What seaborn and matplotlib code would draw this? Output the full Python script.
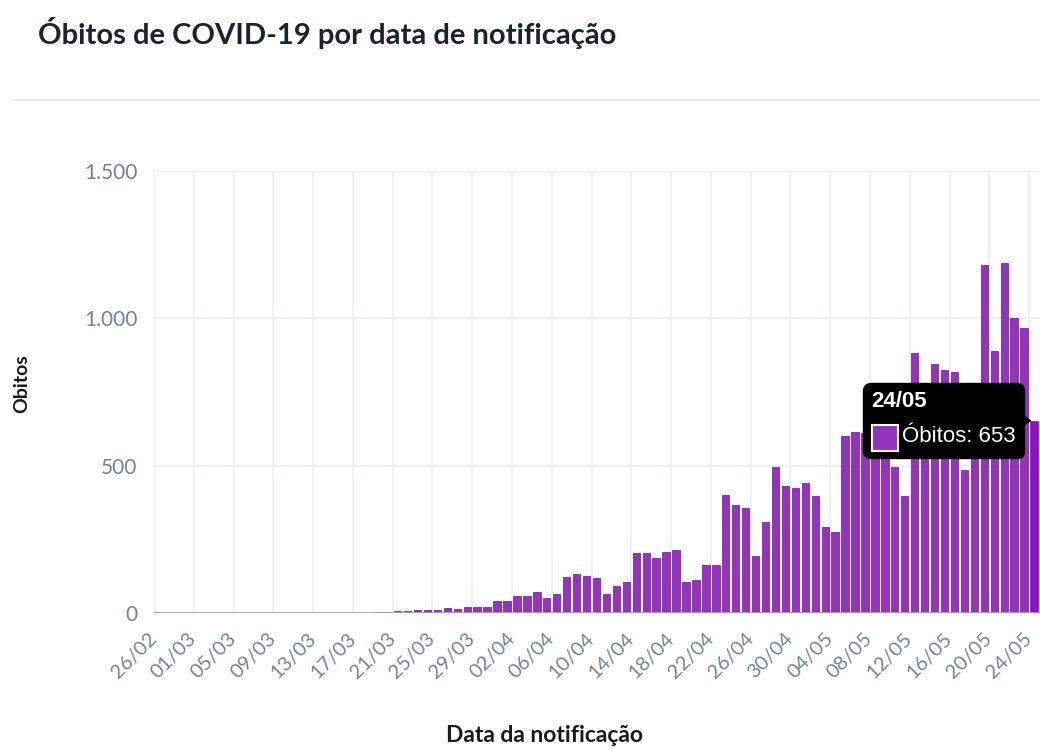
import pandas as pd
import seaborn as sns
import matplotlib.pyplot as plt
from matplotlib.lines import Line2D
from matplotlib.patches import Rectangle
from matplotlib.offsetbox import TextArea, DrawingArea, HPacker, VPacker, AnnotationBbox

# dados: obitos diarios por data de notificacao (26/02 a 24/05)
datas = pd.date_range('2020-02-26', '2020-05-24', freq='D').strftime('%d/%m').tolist()
obitos = [
  0, 0, 0, 0, 0, 0, 0, 0, 0, 0,
  0, 0, 0, 0, 0, 0, 0, 0, 0, 0,
  1, 2, 3, 5, 8, 8, 10, 11, 11, 19,
  14, 20, 20, 21, 40, 40, 57, 57, 71, 52,
  67, 122, 133, 128, 120, 64, 93, 105, 204, 203,
  187, 207, 215, 107, 114, 164, 164, 402, 366, 358,
  193, 309, 496, 433, 426, 442, 396, 294, 277, 600,
  615, 610, 751, 730, 496, 396, 883, 749, 845, 825,
  817, 486, 674, 1180, 889, 1188, 1002, 966, 653,
]
yticks = [0, 500, 1000, 1500]
titulo = 'Óbitos de COVID-19 por data de notificação'

bar_color = '#9433bb'
hover_color = '#8e10cc'
grid_color = '#e9eef5'
tick_color = '#70839d'

sns.set_theme(style='white')
plt.rcParams['font.family'] = ['Lato', 'DejaVu Sans']

fig = plt.figure(figsize=(10.4, 7.49), dpi=100)
ax = fig.add_axes([154/1040, 1-613.3/749, 886/1040, (613.3-170.7)/749])

palette = {d: bar_color for d in datas}
palette[datas[-1]] = hover_color
sns.barplot(x=datas, y=obitos, hue=datas, palette=palette, legend=False,
            width=0.74, saturation=1, edgecolor='#8524ab', linewidth=0.6, ax=ax, zorder=3)

ax.set_ylim(0, 1500)
ax.set_yticks(yticks, [f'{v:,}'.replace(',', '.') for v in yticks])
pos = list(range(0, len(datas), 4))
ax.set_xticks([p - 0.5 for p in pos], [datas[p] for p in pos])
ax.set_xlim(-0.5, 88.6)
ax.grid(True, axis='both', color=grid_color, lw=1.2, zorder=0)
ax.set_axisbelow(True)
sns.despine(ax=ax, left=True, bottom=True, top=True, right=True)
ax.axhline(0, color='#a3a3a3', lw=1.3, zorder=4)

ax.tick_params(axis='y', length=10, width=1.2, color=grid_color, pad=2, labelsize=15, labelcolor=tick_color)
ax.tick_params(axis='x', length=12, width=1.2, color=grid_color, pad=4, labelsize=14.5, labelcolor=tick_color)
plt.setp(ax.get_xticklabels(), rotation=45, ha='right', va='center', rotation_mode='anchor')
ax.yaxis.get_major_ticks()[0].tick1line.set_color('#a3a3a3')
ax.xaxis.get_major_ticks()[0].tick1line.set_color('#a3a3a3')
ax.set_xlabel('')
ax.set_ylabel('')

# tooltip do ultimo dia
ponta = (len(datas) - 1.37, obitos[-1])
t1 = TextArea(datas[-1], textprops=dict(color='white', fontsize=16, fontweight='bold', family='Liberation Sans'))
sq = DrawingArea(19, 19)
sq.add_artist(Rectangle((0, -1), 19, 19, fc=bar_color, ec='white', lw=1.5))
t2 = TextArea(f'Óbitos: {obitos[-1]}', textprops=dict(color='white', fontsize=16, family='Liberation Sans'))
box = VPacker(children=[t1, HPacker(children=[sq, t2], sep=3, align='center')], sep=8, align='left')
ab = AnnotationBbox(box, ponta, xybox=(-10.5, 0), xycoords='data',
                    boxcoords='offset points', box_alignment=(1, 0.5), pad=0.55,
                    bboxprops=dict(boxstyle='round,pad=0.55,rounding_size=0.5', fc='black', ec='black'),
                    zorder=10)
ax.add_artist(ab)
ax.annotate('', xy=ponta, xytext=(-10, 0), textcoords='offset points', zorder=11,
            arrowprops=dict(arrowstyle='wedge,tail_width=1.2', fc='black', ec='black',
                            shrinkA=0, shrinkB=0))

fig.text(38/1040, 1-33/749, titulo, fontsize=21, fontweight='bold', color='#1c2233', va='center', ha='left')
fig.add_artist(Line2D([12/1040, 1], [1-100/749, 1-100/749], color='#e8edf3', lw=1.3))
fig.text(22/1040, 1-384/749, 'Obitos', rotation=90, fontsize=14, fontweight='bold', color='#1a1a1a', va='center', ha='center')
fig.text(545/1040, 1-736/749, 'Data da notificação', fontsize=16.5, fontweight='bold', color='#1a1a1a', va='center', ha='center')

fig.savefig('out.png', dpi=100)
